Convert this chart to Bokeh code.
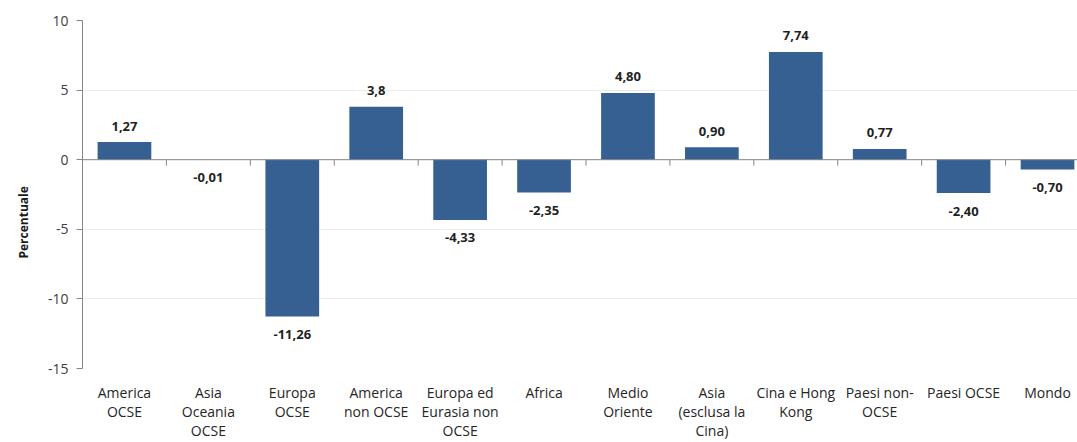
from bokeh.core.properties import value
from bokeh.embed import file_html
from bokeh.models import ColumnDataSource, FixedTicker, Range1d, Span, Title
from bokeh.plotting import figure
from bokeh.resources import INLINE

# Regions (category axis) and the percentage change shown above/below each bar
regions = [
    "America\nOCSE",
    "Asia\nOceania\nOCSE",
    "Europa\nOCSE",
    "America\nnon OCSE",
    "Europa ed\nEurasia non\nOCSE",
    "Africa",
    "Medio\nOriente",
    "Asia\n(esclusa la\nCina)",
    "Cina e Hong\nKong",
    "Paesi non-\nOCSE",
    "Paesi OCSE",
    "Mondo",
]
value_labels = ["1,27", "-0,01", "-11,26", "3,8", "-4,33", "-2,35",
                "4,80", "0,90", "7,74", "0,77", "-2,40", "-0,70"]
values = [float(s.replace(",", ".")) for s in value_labels]
y_ticks = [-15, -10, -5, 0, 5, 10]

FONT = "Open Sans"
BAR_COLOR = "#376092"
AXIS_GRAY = "#868686"

n = len(regions)
slot_px = 84          # width of one category slot in pixels
frame_w = 996         # visible frame width; the last slot runs past the page edge
frame_h = 348
y_lo, y_hi = y_ticks[0], y_ticks[-1]
x_pos = [i + 0.5 for i in range(n)]

p = figure(
    width=1077, height=442,
    output_backend="svg", toolbar_location=None,
    x_range=Range1d(0, frame_w / slot_px), y_range=Range1d(y_lo, y_hi),
    min_border_left=81, min_border_right=0,
    min_border_top=20, min_border_bottom=74,
)
p.outline_line_color = None
p.background_fill_color = "white"
p.border_fill_color = "white"

p.xgrid.visible = False
p.ygrid.ticker = FixedTicker(ticks=y_ticks)
p.ygrid.grid_line_color = "#ececec"

src = ColumnDataSource(dict(
    x=x_pos,
    top=values,
    label=value_labels,
    off=[-16 if v >= 0 else 18 for v in values],
))

p.vbar(x="x", top="top", bottom=0, width=0.64, source=src,
       fill_color=BAR_COLOR, line_color=None)

# Zero line with short tick marks hanging below it at the category boundaries
p.add_layout(Span(location=0, dimension="width", line_color=AXIS_GRAY, line_width=1))
tick_len = 6 * (y_hi - y_lo) / frame_h
bounds = list(range(n + 1))
p.segment(x0=bounds, y0=[0] * len(bounds), x1=bounds, y1=[-tick_len] * len(bounds),
          line_color=AXIS_GRAY, line_width=1)

p.text(x="x", y="top", text="label", y_offset="off", source=src,
       text_align="center", text_baseline="middle",
       text_font=value(FONT), text_font_style="bold",
       text_font_size="13px", text_color="#1f1f1f")

# Category labels along the bottom
xa = p.xaxis[0]
xa.ticker = FixedTicker(ticks=x_pos)
xa.major_label_overrides = {x: r for x, r in zip(x_pos, regions)}
xa.axis_line_color = None
xa.major_tick_line_color = None
xa.minor_tick_line_color = None
xa.major_tick_out = 0
xa.major_tick_in = 0
xa.major_label_standoff = 14
xa.major_label_text_font = FONT
xa.major_label_text_font_size = "14px"
xa.major_label_text_color = "#262626"
xa.major_label_text_line_height = 1.0

# Value axis
ya = p.yaxis[0]
ya.ticker = FixedTicker(ticks=y_ticks)
ya.major_label_overrides = {t: str(t) for t in y_ticks}
ya.axis_line_color = AXIS_GRAY
ya.major_tick_line_color = AXIS_GRAY
ya.minor_tick_line_color = None
ya.major_tick_out = 6
ya.major_tick_in = 0
ya.major_label_standoff = 8
ya.major_label_text_font = FONT
ya.major_label_text_font_size = "14px"
ya.major_label_text_color = "#404040"

# Vertical axis title in the left panel, sitting a little below the middle
p.add_layout(Title(
    text="Percentuale", align="left", offset=110, standoff=25,
    text_font=FONT, text_font_style="bold",
    text_font_size="12px", text_color="#1a1a1a",
), "left")

open("out.html", "w").write(file_html(p, INLINE))
